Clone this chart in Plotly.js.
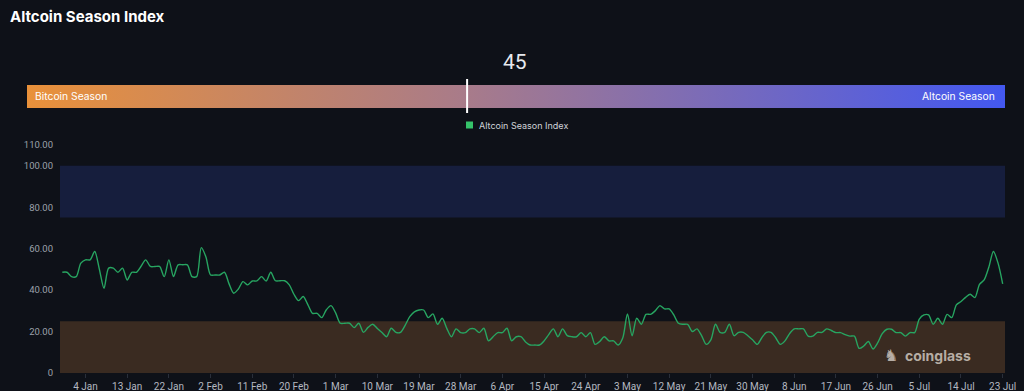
<!DOCTYPE html>
<html>
<head>
<meta charset="utf-8">
<script src="https://cdn.plot.ly/plotly-3.0.1.min.js"></script>
<style>
  html, body { margin: 0; padding: 0; background: #0e1118; }
  #chart { width: 1024px; height: 391px; }
</style>
</head>
<body>
<div id="chart"></div>
<script>
// ---------- DATA ----------
const startDate = '2024-12-30';
const endDate = '2025-07-23';
const missingDates = ['2025-01-26', '2025-01-29'];

const indexValues = [
  48.6, 48.6, 46.5, 46.5, 53, 54.6, 54.6, 58.6, 50, 40.9,
  50.6, 50.6, 48.6, 50.6, 44.9, 48.6, 48.6, 51.5, 54.6, 51.4,
  51.4, 51.4, 46.5, 54.6, 46.5, 52.2, 52.2, 52.2, 46.5, 46.5,
  60.5, 56, 47.3, 47.3, 47.3, 48.6, 43, 38.5, 40.5, 44.1,
  42.5, 44.4, 44.4, 46.5, 44.4, 48.6, 44.5, 44.5, 44.5, 42.5,
  38, 34.9, 36.9, 33, 28.8, 28.8, 26.7, 30.5, 32.5, 29,
  24, 24, 24, 21.9, 24, 19.6, 22, 23.5, 21.5, 19.5,
  17.5, 21.6, 19.6, 19.6, 23, 27.2, 29.5, 30.4, 30.4, 26.7,
  28.5, 23.5, 26.4, 21.5, 17.5, 21.3, 19.5, 19.5, 21.3, 21.3,
  19.5, 21.6, 15.5, 17.5, 19.5, 19.5, 21.6, 15.5, 17.5, 17.5,
  15, 13.5, 13.5, 13.5, 15.5, 18.5, 21.3, 17.5, 21.3, 18,
  17.5, 17.5, 19.5, 17.5, 19.5, 13.8, 15.2, 17.5, 15.5, 15.5,
  13.5, 17, 28.5, 18, 26.4, 23.5, 28.3, 28.3, 30, 32.5,
  30.9, 30.9, 28, 24, 23.5, 23.5, 20, 21.3, 18, 13.8,
  16, 23.5, 19.6, 19.6, 23.5, 18, 19.6, 19.6, 18, 16,
  13.8, 17, 19.6, 19.6, 17, 13.8, 15.5, 19, 21.3, 21.3,
  21.3, 17.8, 17.8, 19.6, 19.6, 21.3, 20.5, 19.5, 19.5, 18.5,
  17.8, 17.8, 11.9, 13, 15.2, 11.6, 14.5, 19, 21.1, 21.1,
  19.5, 19.5, 17.8, 19.5, 19.5, 26, 28, 28, 23.5, 26.4,
  23.5, 28.3, 26.7, 32.9, 34.5, 36.5, 38, 36.4, 42.8, 44.9,
  51, 58.6, 53, 43
];

const xTickLabels = ['4 Jan','13 Jan','22 Jan','2 Feb','11 Feb','20 Feb','1 Mar','10 Mar',
  '19 Mar','28 Mar','6 Apr','15 Apr','24 Apr','3 May','12 May','21 May','30 May',
  '8 Jun','17 Jun','26 Jun','5 Jul','14 Jul','23 Jul'];
const yTickValues = [0, 20, 40, 60, 80, 100, 110];
const yTickLabels = ['0', '20.00', '40.00', '60.00', '80.00', '100.00', '110.00'];

const altcoinSeasonBand = [75, 100];
const bitcoinSeasonBand = [0, 25];
const currentIndex = 45;

// ---------- categories (dates) ----------
const MONTHS = ['Jan','Feb','Mar','Apr','May','Jun','Jul','Aug','Sep','Oct','Nov','Dec'];
const dates = [];
for (let d = new Date(startDate + 'T00:00:00Z'); d <= new Date(endDate + 'T00:00:00Z'); d.setUTCDate(d.getUTCDate() + 1)) {
  const iso = d.toISOString().slice(0, 10);
  if (missingDates.includes(iso)) continue;
  dates.push(d.getUTCDate() + ' ' + MONTHS[d.getUTCMonth()]);
}

// ---------- geometry helpers (pixel -> paper) ----------
const W = 1024, H = 391;
const L = 60, R = 19, B = 18, T = 0;
const plotW = W - L - R, plotH = H - B - T;
const px = v => (v - L) / plotW;
const py = v => (H - B - v) / plotH;

const barLeft = 27, barRight = 1005, barTop = 85, barBottom = 108;
const markerX = barLeft + (barRight - barLeft) * currentIndex / 100;

const gradSvg = '<svg xmlns="http://www.w3.org/2000/svg" width="978" height="23" preserveAspectRatio="none">' +
  '<defs><linearGradient id="g" x1="0" y1="0" x2="1" y2="0">' +
  '<stop offset="0" stop-color="#e9913a"/>' +
  '<stop offset="0.45" stop-color="#a87b8a"/>' +
  '<stop offset="1" stop-color="#4358f0"/>' +
  '</linearGradient></defs><rect width="978" height="23" fill="url(#g)"/></svg>';
const gradSrc = 'data:image/svg+xml;base64,' + btoa(gradSvg);

const trace = {
  type: 'scatter',
  mode: 'lines',
  x: dates,
  y: indexValues,
  name: 'Altcoin Season Index',
  line: { color: '#27a561', width: 1.4, shape: 'spline', smoothing: 0.8 },
  hoverinfo: 'x+y',
  showlegend: false
};

const layout = {
  width: W, height: H,
  paper_bgcolor: '#0e1118',
  plot_bgcolor: '#0e1118',
  margin: { l: L, r: R, t: T, b: B, pad: 0 },
  font: { family: 'Roboto, "DejaVu Sans", sans-serif', color: '#aeb2ba', size: 10 },
  title: {
    text: 'Altcoin Season Index',
    font: { family: 'Inter, "Liberation Sans", sans-serif', size: 15, color: '#ffffff', weight: 700 },
    xref: 'container', yref: 'container',
    x: 10 / W, xanchor: 'left',
    y: 1 - 17 / H, yanchor: 'middle'
  },
  xaxis: {
    type: 'category',
    range: [-0.5, dates.length - 0.5],
    tickmode: 'array',
    tickvals: xTickLabels,
    ticktext: xTickLabels,
    ticks: 'outside', ticklen: 4, tickcolor: '#2a2f3a', tickwidth: 1,
    showgrid: false, zeroline: false, showline: false,
    tickfont: { size: 10, color: '#b4b8c0', family: 'Roboto, sans-serif' },
    fixedrange: true
  },
  yaxis: {
    domain: [0, py(145)],
    range: [0, 110],
    tickmode: 'array',
    tickvals: yTickValues,
    ticktext: yTickLabels,
    showgrid: false, zeroline: false, showline: false,
    ticks: '', ticklabelstandoff: 6,
    tickfont: { size: 9.5, color: '#9ca1aa', family: 'Roboto, sans-serif' },
    fixedrange: true
  },
  shapes: [
    { type: 'rect', layer: 'below', xref: 'x domain', yref: 'y', x0: 0, x1: 1,
      y0: altcoinSeasonBand[0], y1: altcoinSeasonBand[1], fillcolor: '#161e3d', line: { width: 0 } },
    { type: 'rect', layer: 'below', xref: 'x domain', yref: 'y', x0: 0, x1: 1,
      y0: bitcoinSeasonBand[0], y1: bitcoinSeasonBand[1], fillcolor: '#3a2b21', line: { width: 0 } },
    // gauge marker
    { type: 'line', xref: 'paper', yref: 'paper', x0: px(markerX), x1: px(markerX),
      y0: py(79), y1: py(113), line: { color: '#ffffff', width: 2 } },
    // legend swatch
    { type: 'rect', xref: 'paper', yref: 'paper', x0: px(466), x1: px(473),
      y0: py(128.5), y1: py(121.5), fillcolor: '#35c36a', line: { width: 0 } }
  ],
  images: [
    { source: gradSrc, xref: 'paper', yref: 'paper', x: px(barLeft), y: py(barTop),
      sizex: (barRight - barLeft) / plotW, sizey: (barBottom - barTop) / plotH,
      xanchor: 'left', yanchor: 'top', sizing: 'stretch', layer: 'below' }
  ],
  annotations: [
    { text: String(currentIndex), xref: 'paper', yref: 'paper', x: px(515), y: py(62),
      xanchor: 'center', yanchor: 'middle', showarrow: false,
      font: { size: 21, color: '#e6e9ee', family: 'Roboto, sans-serif' } },
    { text: 'Bitcoin Season', xref: 'paper', yref: 'paper', x: px(33), y: py(96.5),
      xanchor: 'left', yanchor: 'middle', showarrow: false,
      font: { size: 10.3, color: '#ffffff', family: 'Inter, sans-serif' } },
    { text: 'Altcoin Season', xref: 'paper', yref: 'paper', x: px(997), y: py(96.5),
      xanchor: 'right', yanchor: 'middle', showarrow: false,
      font: { size: 10.3, color: '#ffffff', family: 'Inter, sans-serif' } },
    { text: 'Altcoin Season Index', xref: 'paper', yref: 'paper', x: px(477), y: py(125),
      xanchor: 'left', yanchor: 'middle', showarrow: false,
      font: { size: 9, color: '#d0d3d8', family: 'Inter, sans-serif' } },
    { text: '<b>coinglass</b>', xref: 'paper', yref: 'paper', x: px(903), y: py(355),
      xanchor: 'left', yanchor: 'middle', showarrow: false,
      font: { size: 14, color: 'rgba(205,198,190,0.85)', family: 'Inter, sans-serif' } },
    { text: '♞', xref: 'paper', yref: 'paper', x: px(891), y: py(355),
      xanchor: 'center', yanchor: 'middle', showarrow: false,
      font: { size: 16, color: 'rgba(205,198,190,0.85)', family: 'DejaVu Sans, sans-serif' } }
  ],
  showlegend: false
};

Plotly.newPlot('chart', [trace], layout, { displayModeBar: false, staticPlot: true });
</script>
</body>
</html>
